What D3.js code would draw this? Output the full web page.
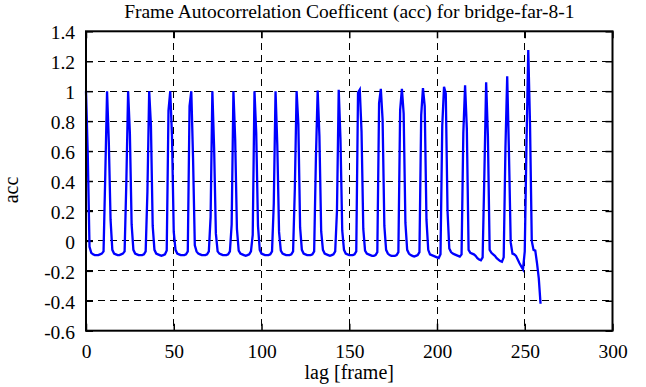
<!DOCTYPE html>
<html>
<head>
<meta charset="utf-8">
<script src="https://cdn.jsdelivr.net/npm/d3@7"></script>
<style>
  body { margin: 0; background: #fff; }
</style>
</head>
<body>
<div id="chart"></div>
<script>
  // acc value for every lag, one row per 12-frame period (row starts at the peak)
  var acc = [
    1.00, 0.58, -0.04, -0.08, -0.09, -0.095, -0.095, -0.095, -0.09, -0.085, -0.07, 0.45,
    1.00, 0.66, 0.14, -0.06, -0.085, -0.09, -0.095, -0.095, -0.09, -0.085, -0.07, 0.40,
    1.00, 0.72, 0.11, -0.06, -0.085, -0.09, -0.095, -0.095, -0.095, -0.09, -0.07, 0.33,
    1.00, 0.77, 0.10, -0.06, -0.085, -0.09, -0.095, -0.10, -0.095, -0.09, -0.065, 0.87,
    1.00, 0.70, 0.06, -0.06, -0.085, -0.09, -0.095, -0.095, -0.095, -0.09, -0.07, 0.90,
    1.00, 0.55, -0.03, -0.07, -0.085, -0.09, -0.095, -0.095, -0.095, -0.09, -0.07, 0.16,
    1.00, 0.62, 0.05, -0.07, -0.085, -0.09, -0.095, -0.095, -0.095, -0.09, -0.07, 0.11,
    1.00, 0.68, 0.08, -0.065, -0.085, -0.09, -0.095, -0.10, -0.095, -0.09, -0.07, 0.04,
    1.00, 0.72, 0.10, -0.06, -0.085, -0.09, -0.095, -0.095, -0.095, -0.09, -0.07, 0.25,
    1.00, 0.64, 0.06, -0.065, -0.085, -0.09, -0.095, -0.095, -0.095, -0.09, -0.07, 0.35,
    1.00, 0.78, 0.09, -0.06, -0.085, -0.09, -0.095, -0.095, -0.095, -0.09, -0.07, 0.55,
    1.005, 0.70, 0.065, -0.06, -0.085, -0.09, -0.095, -0.10, -0.095, -0.09, -0.07, 0.20,
    1.01, 0.68, 0.07, -0.06, -0.085, -0.09, -0.095, -0.095, -0.095, -0.09, -0.07, 0.99,
    1.01, 0.73, 0.08, -0.065, -0.085, -0.09, -0.095, -0.10, -0.10, -0.095, -0.075, 0.92,
    1.015, 0.81, 0.10, -0.06, -0.085, -0.095, -0.10, -0.10, -0.10, -0.095, -0.075, 0.875,
    1.015, 0.85, 0.12, -0.06, -0.085, -0.095, -0.10, -0.105, -0.10, -0.095, -0.075, 0.84,
    1.02, 0.90, 0.14, -0.06, -0.09, -0.095, -0.10, -0.105, -0.11, -0.115, -0.09, 0.77,
    1.03, 0.985, 0.20, -0.05, -0.075, -0.085, -0.09, -0.095, -0.10, -0.105, -0.09, 0.72,
    1.04, 0.75, -0.06, -0.08, -0.085, -0.09, -0.10, -0.115, -0.125, -0.13, -0.11, 0.45,
    1.06, 0.70, -0.06, -0.08, -0.09, -0.10, -0.115, -0.125, -0.135, -0.14, -0.11, 0.62,
    1.10, 0.59, -0.01, -0.085, -0.09, -0.10, -0.125, -0.15, -0.17, -0.19, -0.07, 0.65,
    1.275, 0.78, 0.00, -0.06, -0.065, -0.15, -0.25, -0.42
  ];
  var firstLag = 0;   // lag of acc[0], one frame per step

  var xTicks = [0, 50, 100, 150, 200, 250, 300];
  var yTicks = [-0.6, -0.4, -0.2, 0, 0.2, 0.4, 0.6, 0.8, 1, 1.2, 1.4];
  var yTickLabels = ['-0.6', '-0.4', '-0.2', '0', '0.2', '0.4', '0.6', '0.8', '1', '1.2', '1.4'];

  var FONT = '"Liberation Serif", "DejaVu Serif", serif';
  var svgWidth = 646, svgHeight = 387;
  var margin = {top: 31.3, right: 33.5, bottom: 56.3, left: 86};
  var width = svgWidth - margin.left - margin.right;
  var height = svgHeight - margin.top - margin.bottom;

  var svg = d3.select('#chart').append('svg')
      .attr('width', svgWidth).attr('height', svgHeight);
  var g = svg.append('g')
      .attr('transform', 'translate(' + margin.left + ',' + margin.top + ')');

  var x = d3.scaleLinear().domain([0, 300]).range([0, width]);
  var y = d3.scaleLinear().domain([-0.6, 1.4]).range([height, 0]);

  // dashed grid
  var gridX = xTicks.slice(1, -1), gridY = yTicks.slice(1, -1);
  g.append('g').attr('class', 'grid')
      .selectAll('line').data(gridX).enter().append('line')
      .attr('x1', function(d) { return x(d); }).attr('x2', function(d) { return x(d); })
      .attr('y1', 0).attr('y2', height);
  g.append('g').attr('class', 'grid')
      .selectAll('line').data(gridY).enter().append('line')
      .attr('x1', 0).attr('x2', width)
      .attr('y1', function(d) { return y(d); }).attr('y2', function(d) { return y(d); });
  g.selectAll('.grid line')
      .attr('stroke', '#000').attr('stroke-width', 1)
      .attr('stroke-dasharray', '7,5').attr('shape-rendering', 'crispEdges');

  // axes, ticks pointing inward on all four sides
  var tickLen = 7;
  var fmtY = function(d) { return yTickLabels[yTicks.indexOf(d)]; };
  var axB = g.append('g').attr('transform', 'translate(0,' + height + ')')
      .call(d3.axisBottom(x).tickValues(xTicks).tickSize(-tickLen).tickPadding(13).tickFormat(d3.format('d')));
  var axL = g.append('g')
      .call(d3.axisLeft(y).tickValues(yTicks).tickSize(-tickLen).tickPadding(11).tickFormat(fmtY));
  var axT = g.append('g')
      .call(d3.axisTop(x).tickValues(xTicks).tickSize(-tickLen).tickFormat(''));
  var axR = g.append('g').attr('transform', 'translate(' + width + ',0)')
      .call(d3.axisRight(y).tickValues(yTicks).tickSize(-tickLen).tickFormat(''));

  [axB, axL, axT, axR].forEach(function(a) {
    a.attr('font-family', FONT).attr('font-size', 19.5);
    a.select('.domain').remove();
    a.selectAll('line').attr('stroke', '#000').attr('stroke-width', 1.5);
    a.selectAll('text').attr('font-family', FONT).attr('font-size', 19.5).attr('fill', '#000');
  });
  axL.selectAll('text').attr('dy', '0.38em');

  // data line
  var line = d3.line()
      .x(function(d, i) { return x(firstLag + i); })
      .y(function(d) { return y(d); });
  g.append('path').datum(acc)
      .attr('fill', 'none').attr('stroke', '#0000ff')
      .attr('stroke-width', 2.3).attr('stroke-linejoin', 'miter')
      .attr('d', line);

  // border
  g.append('rect').attr('width', width).attr('height', height)
      .attr('fill', 'none').attr('stroke', '#000').attr('stroke-width', 2);

  // titles
  function label(txt, tx, ty, rot, size) {
    return svg.append('text')
        .attr('transform', 'translate(' + tx + ',' + ty + ')' + (rot ? ' rotate(' + rot + ')' : ''))
        .attr('text-anchor', 'middle').attr('font-family', FONT).attr('font-size', size || 20)
        .attr('fill', '#000').text(txt);
  }
  label('Frame Autocorrelation Coefficent (acc) for bridge-far-8-1', margin.left + width / 2, 17.5, 0, 19.5);
  label('lag [frame]', margin.left + width / 2, 379);
  label('acc', 18, 190, -90);
</script>
</body>
</html>
